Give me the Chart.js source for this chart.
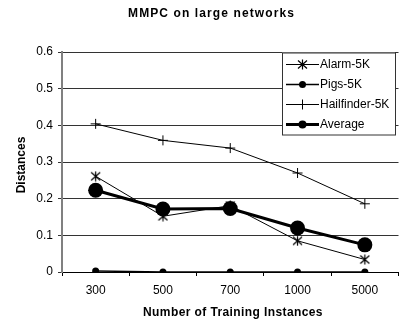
<!DOCTYPE html>
<html><head><meta charset="utf-8">
<script src="https://cdn.jsdelivr.net/npm/chart.js@4.4.1/dist/chart.umd.min.js"></script>
<style>
html,body{margin:0;padding:0;background:#fff;overflow:hidden;}
#wrap{width:400px;height:324px;overflow:hidden;position:relative;}
#box{width:406px;height:324px;position:absolute;left:0;top:0;}
</style></head>
<body>
<div id="wrap"><div id="box"><canvas id="c"></canvas></div></div>
<script>
const categories = ['300','500','700','1000','5000'];
const alarm = [0.261, 0.152, 0.181, 0.085, 0.034];
const pigs = [0.003, 0.0, 0.0, 0.0, 0.0];
const hailfinder = [0.404, 0.359, 0.338, 0.270, 0.186];
const average = [0.223, 0.172, 0.173, 0.120, 0.074];
const yTicks = [0, 0.1, 0.2, 0.3, 0.4, 0.5, 0.6];
const titleText = 'MMPC on large networks';
const xTitle = 'Number of Training Instances';
const yTitle = 'Distances';

function asterisk(r){
  const c = document.createElement('canvas');
  const s = r*2+1; c.width = s; c.height = s;
  const g = c.getContext('2d');
  g.strokeStyle = '#000'; g.lineWidth = 1.2;
  const m = s/2;
  g.beginPath();
  g.moveTo(m, m-r); g.lineTo(m, m+r);
  g.moveTo(m-r*0.9, m-r*0.8); g.lineTo(m+r*0.9, m+r*0.8);
  g.moveTo(m+r*0.9, m-r*0.8); g.lineTo(m-r*0.9, m+r*0.8);
  g.stroke();
  return c;
}
const star = asterisk(5);

const FONT = '"Liberation Sans", Arial, sans-serif';

const texts = {
  id: 'texts',
  afterDraw(chart){
    const ctx = chart.ctx;
    ctx.save();
    ctx.fillStyle = '#000';
    ctx.textAlign = 'center'; ctx.textBaseline = 'middle';
    ctx.font = 'bold 12px ' + FONT;
    ctx.letterSpacing = '1.1px';
    ctx.fillText(titleText, 211.5, 13.5);
    ctx.letterSpacing = '0.4px';
    ctx.fillText(xTitle, 233, 313);
    ctx.letterSpacing = '0px';
    ctx.save();
    ctx.translate(22, 165); ctx.rotate(-Math.PI/2);
    ctx.fillText(yTitle, 0, 0);
    ctx.restore();
    // legend
    const lx = 282, ly = 52.5, lw = 113, lh = 82;
    ctx.fillStyle = '#fff';
    ctx.fillRect(lx, ly, lw, lh);
    ctx.strokeStyle = '#333'; ctx.lineWidth = 1;
    ctx.strokeRect(lx+0.5, ly+0.5, lw, lh);
    const items = chart.data.datasets;
    const rows = [64.5, 84.5, 104.5, 124.5];
    ctx.font = '12px ' + FONT;
    ctx.textAlign = 'left';
    items.forEach((ds, i) => {
      const y = rows[i];
      ctx.strokeStyle = '#000';
      ctx.lineWidth = ds.borderWidth;
      ctx.beginPath(); ctx.moveTo(286, y); ctx.lineTo(319, y); ctx.stroke();
      if (ds.pointStyle === 'circle') {
        ctx.fillStyle = '#000';
        ctx.beginPath(); ctx.arc(302.5, y, i === 3 ? 4 : 3.5, 0, Math.PI*2); ctx.fill();
      } else if (ds.pointStyle === 'cross') {
        ctx.lineWidth = 1;
        ctx.beginPath(); ctx.moveTo(302.5, y-5); ctx.lineTo(302.5, y+5); ctx.stroke();
      } else {
        ctx.drawImage(star, 302.5 - star.width/2, y - star.height/2);
      }
      ctx.fillStyle = '#000';
      ctx.fillText(ds.label, 320, y+0.5);
    });
    ctx.restore();
  }
};

new Chart(document.getElementById('c'), {
  type: 'line',
  data: {
    labels: categories,
    datasets: [
      {label:'Alarm-5K', data: alarm, borderColor:'#000', borderWidth:1, pointStyle: star, pointRadius:5, tension:0},
      {label:'Pigs-5K', data: pigs, borderColor:'#000', backgroundColor:'#000', borderWidth:1.5, pointStyle:'circle', pointRadius:3.5, pointBorderWidth:0, tension:0},
      {label:'Hailfinder-5K', data: hailfinder, borderColor:'#000', borderWidth:1, pointStyle:'cross', pointRadius:5, pointBorderWidth:1, tension:0},
      {label:'Average', data: average, borderColor:'#000', backgroundColor:'#000', borderWidth:3, pointStyle:'circle', pointRadius:7.5, pointBorderWidth:0, tension:0}
    ]
  },
  options: {
    responsive: true, maintainAspectRatio: false, animation: false,
    devicePixelRatio: 1,
    layout: {padding: {top: 52, left: 0, right: 2, bottom: 0}},
    plugins: {legend:{display:false}, title:{display:false}, tooltip:{enabled:false}},
    scales: {
      x: {
        offset: true,
        grid: {offset: true, drawOnChartArea: false, drawTicks: true, tickLength: 4, color:'#000'},
        border: {color:'#000', width:1},
        ticks: {color:'#000', font:{family: FONT, size: 12}, padding: 7, maxRotation:0},
        afterFit(s){ s.height = 52; }
      },
      y: {
        min: 0, max: 0.6,
        afterBuildTicks(s){ s.ticks = yTicks.map(v => ({value: v})); },
        grid: {color:'#333', lineWidth:1, tickLength: 4, drawTicks: true},
        border: {color:'#808080', width:2},
        ticks: {color:'#000', font:{family: FONT, size: 12}, padding: 5,
          callback: v => String(Math.round(v*10)/10)},
        afterFit(s){ s.width = 62; }
      }
    }
  },
  plugins: [texts]
});
</script>
</body></html>
